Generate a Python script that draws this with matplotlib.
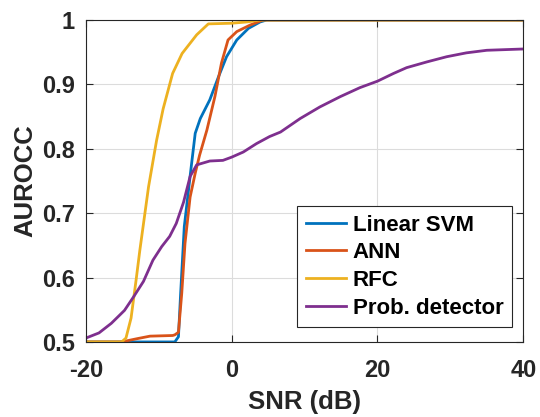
import matplotlib
matplotlib.use("Agg")
import matplotlib.pyplot as plt

# AUROCC vs SNR
svm_snr = [-20, -7.8, -7.3, -7.0, -6.5, -5.6, -5.0, -4.3, -3.0, -1.8,
           -0.7, 0.7, 2.3, 3.9, 4.8, 10, 20, 30, 40]
svm_auc = [0.5, 0.5, 0.508, 0.575, 0.679, 0.767, 0.824, 0.847, 0.876,
           0.912, 0.943, 0.969, 0.987, 0.997, 1.0, 1.0, 1.0, 1.0, 1.0]

ann_snr = [-20, -15.1, -13.0, -11.2, -8.1, -7.8, -7.3, -6.85, -6.4, -5.7,
           -5.0, -4.4, -3.4, -2.3, -1.4, -0.5, 0.7, 2.5, 4.3, 10, 20, 30, 40]
ann_auc = [0.5, 0.5, 0.505, 0.509, 0.51, 0.511, 0.515, 0.575, 0.653, 0.725,
           0.762, 0.79, 0.829, 0.881, 0.933, 0.969, 0.982, 0.992, 1.0, 1.0,
           1.0, 1.0, 1.0]

rfc_snr = [-20, -15.1, -14.5, -13.8, -13.1, -12.6, -11.4, -10.3, -9.4, -8.1,
           -6.8, -4.8, -3.2, 0, 2.1, 3.9, 10, 20, 30, 40]
rfc_auc = [0.5, 0.5, 0.506, 0.537, 0.597, 0.642, 0.741, 0.813, 0.862, 0.917,
           0.948, 0.977, 0.994, 0.995, 0.997, 1.0, 1.0, 1.0, 1.0, 1.0]

prob_snr = [-20, -18.2, -16.5, -14.7, -13.4, -12.1, -10.8, -9.6, -8.5, -7.6,
            -6.6, -5.7, -4.8, -3.0, -1.2, 0, 1.6, 3.4, 5.2, 6.7, 9.4, 12.1,
            14.9, 17.6, 20, 22.2, 24.0, 26.8, 29.5, 32.2, 35.0, 40]
prob_auc = [0.506, 0.514, 0.529, 0.549, 0.571, 0.594, 0.627, 0.648, 0.664,
            0.684, 0.717, 0.757, 0.775, 0.781, 0.782, 0.787, 0.795, 0.808,
            0.819, 0.826, 0.847, 0.865, 0.881, 0.895, 0.905, 0.917, 0.926,
            0.935, 0.943, 0.949, 0.953, 0.955]

labels = ["Linear SVM", "ANN", "RFC", "Prob. detector"]
colors = ["#0072BD", "#D95319", "#EDB120", "#7E2F8E"]

plt.rcParams["font.family"] = ["Liberation Sans", "DejaVu Sans"]
plt.rcParams["font.weight"] = "bold"
plt.rcParams["axes.unicode_minus"] = False

fig = plt.figure(figsize=(5.4, 4.17), dpi=100)
ax = fig.add_axes([0.159, 0.180, 0.810, 0.772])

series = [(svm_snr, svm_auc), (ann_snr, ann_auc), (rfc_snr, rfc_auc),
          (prob_snr, prob_auc)]
for (xs, ys), lab, col in zip(series, labels, colors):
    ax.plot(xs, ys, color=col, lw=2.0, label=lab, solid_joinstyle="round")

ax.set_xlim(-20, 40)
ax.set_ylim(0.5, 1.0)
ax.set_xticks([-20, 0, 20, 40])
ax.set_yticks([0.5, 0.6, 0.7, 0.8, 0.9, 1.0])
ax.set_yticklabels(["0.5", "0.6", "0.7", "0.8", "0.9", "1"])
ax.grid(True, color="#dcdcdc", lw=0.8)
ax.set_axisbelow(True)

axis_col = "#262626"
for sp in ax.spines.values():
    sp.set_color(axis_col)
    sp.set_linewidth(0.8)
ax.tick_params(direction="in", top=True, right=True, length=5,
               color=axis_col, labelcolor=axis_col, labelsize=17)
ax.tick_params(axis="x", pad=12)
ax.tick_params(axis="y", pad=8)
for t in ax.get_xticklabels() + ax.get_yticklabels():
    t.set_fontweight("bold")

ax.set_xlabel("SNR (dB)", fontsize=18.5, fontweight="bold", color=axis_col,
              labelpad=6)
ax.set_ylabel("AUROCC", fontsize=18.5, fontweight="bold", color=axis_col,
              labelpad=3)

leg = ax.legend(loc="lower right", bbox_to_anchor=(0.975, 0.045),
                fontsize=16, fancybox=False, framealpha=1,
                edgecolor=axis_col, handlelength=1.8, handletextpad=0.3,
                labelspacing=0.3, borderpad=0.4, borderaxespad=0.0)
leg.get_frame().set_linewidth(0.8)
for t in leg.get_texts():
    t.set_fontweight("bold")

fig.savefig("out.png", dpi=100)
